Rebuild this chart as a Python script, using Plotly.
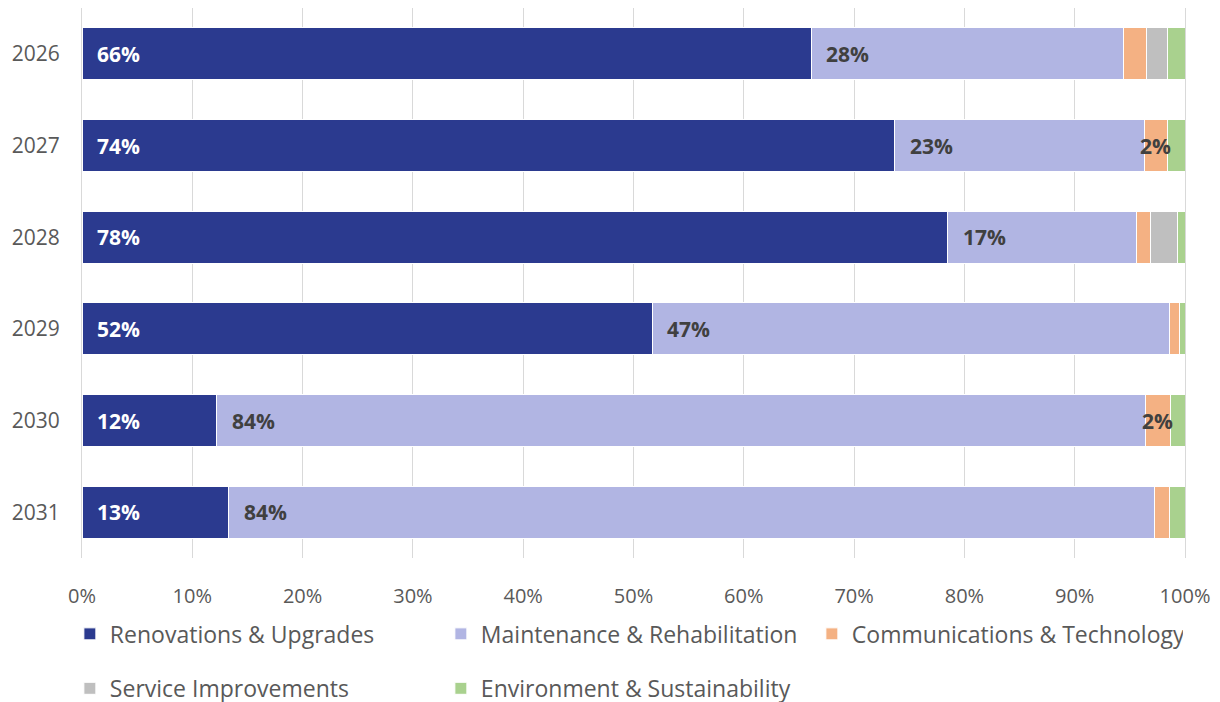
import plotly.graph_objects as go

years = ["2026", "2027", "2028", "2029", "2030", "2031"]
renovations = [66.1, 73.7, 78.5, 51.7, 12.2, 13.3]
maintenance = [28.3, 22.6, 17.1, 46.9, 84.2, 83.9]
communications = [2.1, 2.1, 1.3, 0.9, 2.3, 1.4]
service = [1.9, 0.0, 2.4, 0.0, 0.0, 0.0]
environment = [1.6, 1.6, 0.7, 0.5, 1.3, 1.4]

series_names = ["Renovations & Upgrades", "Maintenance & Rehabilitation",
                "Communications & Technology", "Service Improvements",
                "Environment & Sustainability"]
series_vals = [renovations, maintenance, communications, service, environment]
colors = ["#2b3a8f", "#b1b5e3", "#f4b183", "#bfbfbf", "#a9d18e"]
legend_rows = ["legend", "legend", "legend", "legend2", "legend2"]
# which labels are displayed (per series, per year)
show_labels = [
    [True] * 6,
    [True] * 6,
    [False, True, False, False, True, False],
    [False] * 6,
    [False] * 6,
]

FONT = "Open Sans, Segoe UI, sans-serif"

fig = go.Figure()
for name, vals, col, lg in zip(series_names, series_vals, colors, legend_rows):
    fig.add_trace(go.Bar(
        y=years, x=vals, name=name, orientation="h", legend=lg,
        marker=dict(color=col, line=dict(color="white", width=1)),
        hoverinfo="x+name",
    ))

annotations = []
for si, vals in enumerate(series_vals):
    for yi, y in enumerate(years):
        if not show_labels[si][yi]:
            continue
        start = sum(series_vals[k][yi] for k in range(si))
        v = vals[yi]
        txt = f"{round(v):.0f}%"
        color = "white" if si == 0 else "#404040"
        if si <= 1:
            annotations.append(dict(x=start, y=yi, xref="x", yref="y", text=f"<b>{txt}</b>",
                                    showarrow=False, xanchor="left", xshift=13,
                                    font=dict(family=FONT, size=21, color=color)))
        else:
            annotations.append(dict(x=start + v / 2, y=yi, xref="x", yref="y", text=f"<b>{txt}</b>",
                                    showarrow=False, xanchor="center",
                                    font=dict(family=FONT, size=21, color=color)))

legend_common = dict(orientation="h", xanchor="left", yanchor="middle",
                     entrywidth=326, entrywidthmode="pixels", traceorder="normal",
                     font=dict(family=FONT, size=23, color="#595959"),
                     itemwidth=30, tracegroupgap=0, bgcolor="rgba(0,0,0,0)")

fig.update_layout(
    barmode="stack",
    bargap=0.43,
    width=1220, height=702,
    margin=dict(l=74, r=43, t=0, b=146),
    paper_bgcolor="white", plot_bgcolor="white",
    font=dict(family=FONT, size=20, color="#595959"),
    annotations=annotations,
    showlegend=True,
    legend=dict(legend_common, x=-0.011, y=-0.138),
    legend2=dict(legend_common, x=-0.011, y=-0.237),
    xaxis=dict(range=[0, 100], tickvals=list(range(0, 101, 10)),
               ticktext=[f"{v}%" for v in range(0, 101, 10)],
               showgrid=True, gridcolor="#d9d9d9", gridwidth=1,
               zeroline=False, showline=False,
               tickfont=dict(family=FONT, size=20, color="#595959"),
               ticks="", ticklabelstandoff=24),
    yaxis=dict(type="category", categoryorder="array", categoryarray=years,
               range=[5.5, -0.5],
               showgrid=False, zeroline=False,
               showline=True, linecolor="#d9d9d9", linewidth=1, mirror=True,
               tickfont=dict(family=FONT, size=21, color="#595959"),
               ticks="", ticklabelstandoff=17),
)

fig.write_html("out.html")
